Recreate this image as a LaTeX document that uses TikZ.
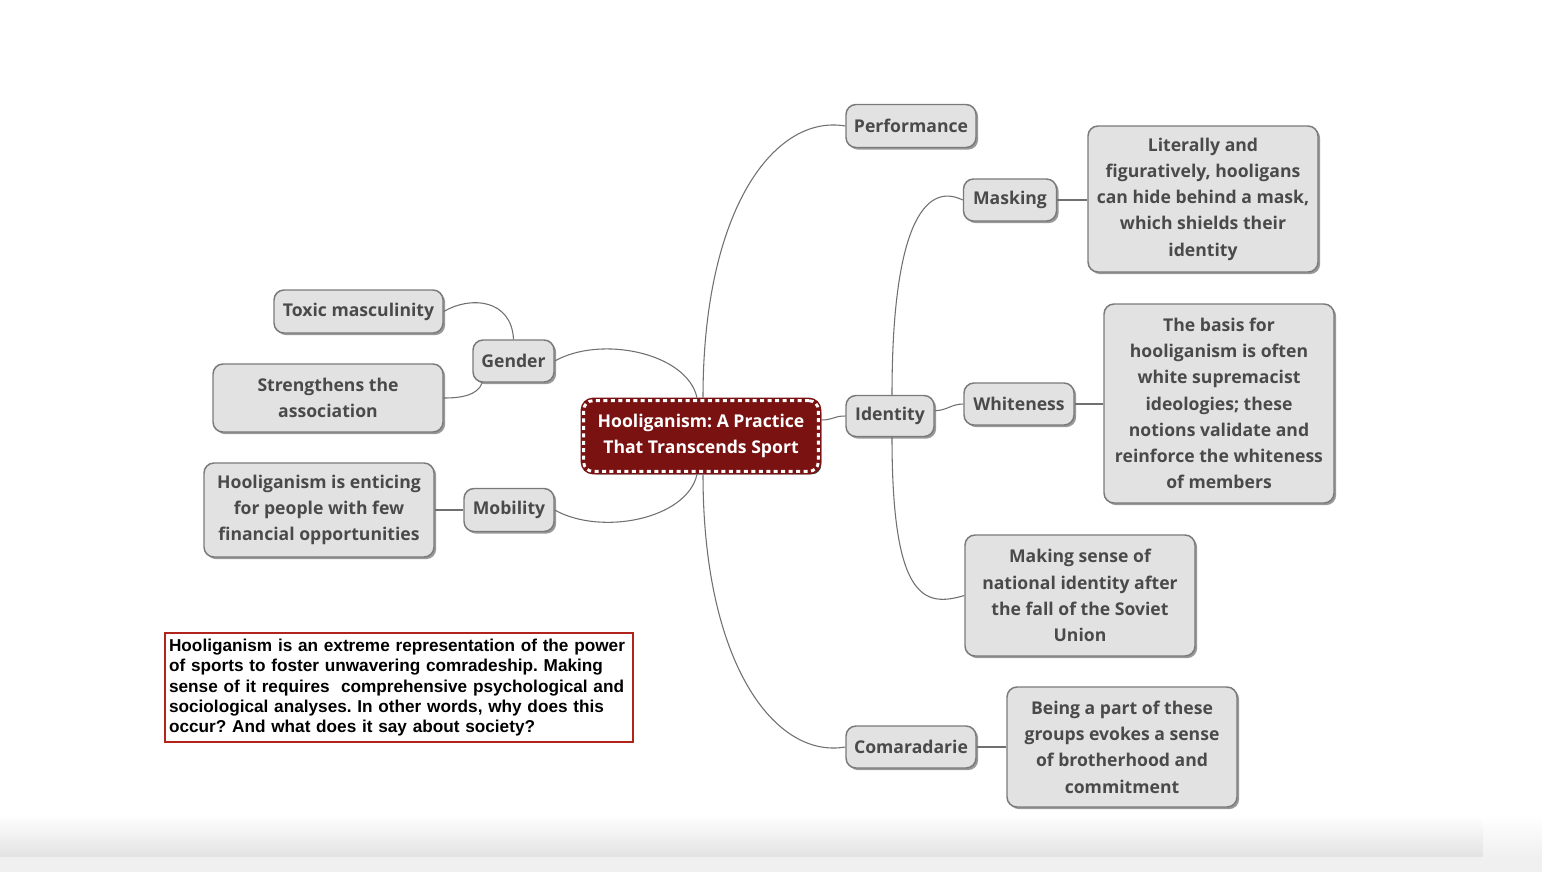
\documentclass[tikz,border=0pt]{standalone}
\usepackage{fontspec}
\setmainfont{Open Sans}
\newfontfamily\arialf{Liberation Sans}
\usetikzlibrary{shadows}
\definecolor{nodefill}{HTML}{E2E2E2}
\definecolor{nodeline}{HTML}{7A7A7A}
\definecolor{txt}{HTML}{4A4A4A}
\definecolor{dred}{HTML}{7A1212}
\definecolor{boxred}{HTML}{B0241C}
\definecolor{connc}{HTML}{707070}
\definecolor{bandgray}{HTML}{E2E2E2}
\definecolor{stripgray}{HTML}{F0F0F0}
\frenchspacing
\begin{document}
\begin{tikzpicture}[x=0.75pt,y=-0.75pt,
  topic/.style={draw=nodeline, line width=1.1pt, fill=nodefill, rounded corners=7.5pt,
    text=txt, font=\bfseries\fontsize{13.2}{19.7}\selectfont, align=center, inner sep=0pt,
    drop shadow={shadow xshift=1.6pt, shadow yshift=-1.6pt, fill=black, opacity=.4}},
  central/.style={draw=dred, line width=4.5pt, fill=dred, rounded corners=7pt,
    text=white, font=\bfseries\fontsize{13.2}{19.7}\selectfont, align=center, inner sep=0pt,
    drop shadow={shadow xshift=2.2pt, shadow yshift=-2.2pt, fill=black, opacity=.75},
    postaction={draw=white, line width=2.2pt, dash pattern=on 3pt off 2.6pt}},
  conn/.style={draw=connc, line width=0.8pt},
  notebox/.style={draw=boxred, line width=1.6pt, fill=white, align=left, inner sep=3pt,
    anchor=north west, font=\arialf\bfseries\fontsize{12.9}{15.2}\selectfont, text=black}
]
\useasboundingbox (0,0) rectangle (1542,872);
\fill[white] (0,0) rectangle (1542,872);
\shade[top color=white, bottom color=bandgray] (0,815) rectangle (1483,857);
\shade[top color=white, bottom color=stripgray] (1483,815) rectangle (1542,857);
\fill[stripgray] (0,857) rectangle (1542,872);

% central
\node[central, minimum width=176pt, minimum height=53pt] (c) at (701,436)
  {Hooliganism: A Practice\\That Transcends Sport};

% right side
\node[topic, minimum width=97.5pt, minimum height=32.25pt] (perf) at (911,126) {Performance};
\node[topic, minimum width=66pt, minimum height=30.75pt] (id) at (890,416) {Identity};
\node[topic, minimum width=97.5pt, minimum height=31.5pt] (com) at (911,747) {Comaradarie};
\node[topic, minimum width=69.75pt, minimum height=31.5pt] (mask) at (1010,200) {Masking};
\node[topic, minimum width=172.5pt, minimum height=109.5pt] (masknote) at (1203,199)
  {Literally and\\figuratively, hooligans\\can hide behind a mask,\\which shields their\\identity};
\node[topic, minimum width=82.5pt, minimum height=31.5pt] (white) at (1019,404) {Whiteness};
\node[topic, minimum width=172.5pt, minimum height=149.25pt] (whitenote) at (1219,403.5)
  {The basis for\\hooliganism is often\\white supremacist\\ideologies; these\\notions validate and\\reinforce the whiteness\\of members};
\node[topic, minimum width=172.5pt, minimum height=90.75pt] (nat) at (1080,595.5)
  {Making sense of\\national identity after\\the fall of the Soviet\\Union};
\node[topic, minimum width=172.5pt, minimum height=90pt] (comnote) at (1122,747)
  {Being a part of these\\groups evokes a sense\\of brotherhood and\\commitment};

% left side
\node[topic, minimum width=60.75pt, minimum height=31.5pt] (gen) at (513.5,361) {Gender};
\node[topic, minimum width=126.75pt, minimum height=32.25pt] (tox) at (358.5,311.5) {Toxic masculinity};
\node[topic, minimum width=172.5pt, minimum height=51pt] (str) at (328,398) {Strengthens the\\association};
\node[topic, minimum width=67.5pt, minimum height=32.25pt] (mob) at (509,510) {Mobility};
\node[topic, minimum width=172.5pt, minimum height=70.5pt] (ent) at (319,510)
  {Hooliganism is enticing\\for people with few\\financial opportunities};

% text box
\node[notebox, text width=345pt, minimum height=81.75pt] (box) at (164,632)
  {Hooliganism is an extreme representation of the power\\
   of sports to foster unwavering comradeship. Making\\
   sense of it requires\ \ comprehensive psychological and\\
   sociological analyses. In other words, why does this\\
   occur? And what does it say about society?};

% connectors
\draw[conn] ([xshift=1.5pt]c.north) .. controls +(0,-190) and +(-70,-12) .. (perf.west);
\draw[conn] ([xshift=1.5pt]c.south) .. controls +(0,190) and +(-70,12) .. (com.west);
\draw[conn] ([xshift=-3pt]c.north) .. controls +(-10,-45) and +(46,-26) .. (gen.east);
\draw[conn] ([xshift=-3pt]c.south) .. controls +(-10,45) and +(46,26) .. (mob.east);
\draw[conn] ([yshift=12pt]c.east) .. controls +(12,0) and +(-12,0) .. (id.west);
\draw[conn] ([xshift=1.5pt]id.north) .. controls +(0,-166) and +(-39,-19) .. (mask.west);
\draw[conn] ([xshift=1.5pt]id.south) .. controls +(0,163) and +(-40,12) .. (nat.west);
\draw[conn] ([yshift=4pt]id.east) .. controls +(12,0) and +(-12,0) .. (white.west);
\draw[conn] (mask.east) -- (masknote.west |- mask.east);
\draw[conn] (white.east) -- (whitenote.west |- white.east);
\draw[conn] (com.east) -- (comnote.west |- com.east);
\draw[conn] (gen.north) .. controls +(-2,-40) and +(27,-16) .. (tox.east);
\draw[conn] ([xshift=7.5pt]gen.south west) .. controls +(-5,13) and +(17,0) .. (str.east);
\draw[conn] (ent.east) -- (mob.west);
\end{tikzpicture}
\end{document}
